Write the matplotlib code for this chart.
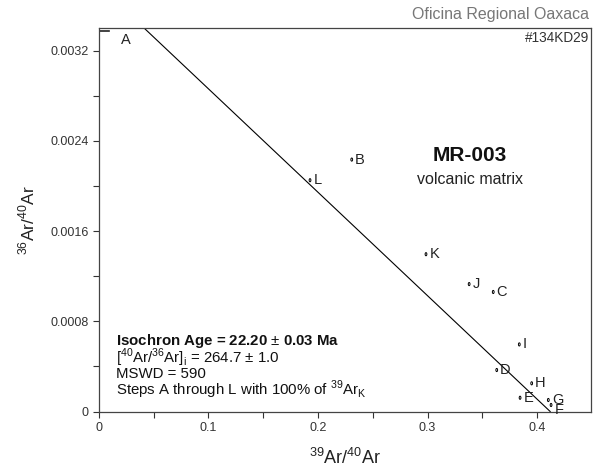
import matplotlib
matplotlib.use("Agg")
import matplotlib.pyplot as plt
from matplotlib.patches import Ellipse
from matplotlib.ticker import MultipleLocator, FixedLocator

plt.rcParams['font.family'] = ['Liberation Sans', 'DejaVu Sans']
plt.rcParams['mathtext.fontset'] = 'custom'
plt.rcParams['mathtext.rm'] = 'Liberation Sans'
plt.rcParams['mathtext.bf'] = 'Liberation Sans:bold'

# Step data: 39Ar/40Ar and 36Ar/40Ar
steps = ['A', 'B', 'C', 'D', 'E', 'F', 'G', 'H', 'I', 'J', 'K', 'L']
x39 = [0.004, 0.2308, 0.3600, 0.3632, 0.3845, 0.4128, 0.4103, 0.3951, 0.3838, 0.3380, 0.2986, 0.1927]
y36 = [0.00337, 0.002234, 0.001060, 0.000368, 0.000122, 0.000058, 0.000102, 0.000250, 0.000595, 0.001130, 0.001395, 0.002051]

# isochron fit
trapped_ratio = 264.7     # (40Ar/36Ar)i
x_intercept = 0.412

x_ticks = [0, 0.1, 0.2, 0.3, 0.4]
x_tick_labels = ['0', '0.1', '0.2', '0.3', '0.4']
y_ticks = [0, 0.0008, 0.0016, 0.0024, 0.0032]
y_tick_labels = ['0', '0.0008', '0.0016', '0.0024', '0.0032']

fig = plt.figure(figsize=(5.97, 4.68), dpi=100)
ax = fig.add_axes([0.1658, 0.1207, 0.8242, 0.8193])
ax.set_xlim(0, 0.4493)
ax.set_ylim(0, 0.00340)

y0 = 1.0 / trapped_ratio
ax.plot([0, x_intercept], [y0, 0], color='black', lw=0.8)

# error ellipses and step labels
for s, x, y in zip(steps, x39, y36):
    if s == 'A':
        ax.plot([x - 0.0035, x + 0.005], [y, y], color='#222222', lw=1.2)
        ax.text(x + 0.016, y - 0.00008, s, fontsize=10.5, ha='left', va='center', color='#222222')
        continue
    e = Ellipse((x, y), width=0.0016, height=0.000028, fill=False,
                edgecolor='black', lw=0.7)
    ax.add_patch(e)
    dy = -0.000045 if s == 'F' else 0.0
    ax.text(x + 0.0032, y + dy, s, fontsize=10.5, ha='left', va='center', color='#222222')

ax.xaxis.set_major_locator(FixedLocator(x_ticks))
ax.xaxis.set_minor_locator(MultipleLocator(0.05))
ax.yaxis.set_major_locator(FixedLocator(y_ticks))
ax.yaxis.set_minor_locator(MultipleLocator(0.0004))
ax.set_xticklabels(x_tick_labels)
ax.set_yticklabels(y_tick_labels)
ax.tick_params(axis='both', which='both', direction='out', top=False, right=False,
               labelsize=9, colors='#333333', labelcolor='#333333')
ax.tick_params(which='both', length=4, width=0.8)
for sp in ax.spines.values():
    sp.set_color('#444444')
    sp.set_linewidth(0.9)

ax.set_xlabel(r'$^{39}$Ar/$^{40}$Ar', fontsize=13, labelpad=10, color='#222222')
ax.set_ylabel(r'$^{36}$Ar/$^{40}$Ar', fontsize=12.5, labelpad=9, color='#222222')

tx = 0.0155
fs = 10.8
ax.text(tx, 0.000629, r'Isochron Age = 22.20 $\pm$ 0.03 Ma', fontsize=fs,
        fontweight='bold', ha='left', va='center', color='#111111')
ax.text(tx, 0.000480, r'[$^{40}$Ar/$^{36}$Ar]$_{\rm i}$ = 264.7 $\pm$ 1.0', fontsize=fs,
        ha='left', va='center', color='#111111')
ax.text(tx, 0.000337, 'MSWD = 590', fontsize=fs, ha='left', va='center', color='#111111')
ax.text(tx, 0.000190, r'Steps A through L with 100% of $^{39}$Ar$_{\rm K}$', fontsize=fs,
        ha='left', va='center', color='#111111')

ax.text(0.3388, 0.002272, 'MR-003', fontsize=15, fontweight='bold', ha='center', va='center',
        color='#111111')
ax.text(0.3388, 0.002055, 'volcanic matrix', fontsize=11.5, ha='center', va='center',
        color='#222222')

fig.text(0.987, 0.970, 'Oficina Regional Oaxaca', fontsize=11.5, ha='right', va='center',
         color='#777777')
ax.text(0.996, 0.975, '#134KD29', fontsize=9.8, ha='right', va='center',
        transform=ax.transAxes, color='#333333')

fig.savefig('out.png', dpi=100)
